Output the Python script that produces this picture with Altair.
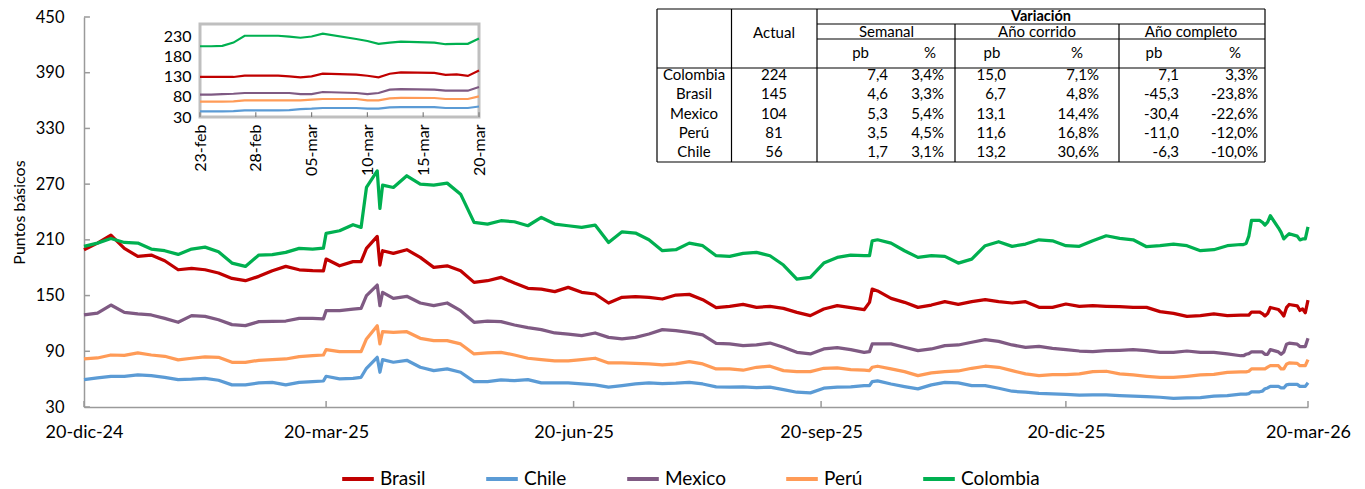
import altair as alt
import pandas as pd

# ---------------- data ----------------
paises = ["Brasil", "Chile", "Mexico", "Perú", "Colombia"]
colores = ["#C00000", "#5B9BD5", "#7F5A83", "#FF9B57", "#00B050"]
meses = ["ene", "feb", "mar", "abr", "may", "jun", "jul", "ago", "sep", "oct", "nov", "dic"]

inicio = "2024-12-20"
# days since 20-dic-24 for the sampled main series
dias = [0, 5, 10, 15, 20, 25, 30, 35, 40, 45, 50, 55, 60, 65, 70, 75, 80, 85, 89, 90, 95, 100, 103, 105,
        109, 110, 111,
        115, 120, 125, 130, 135, 140, 145, 150, 155, 160, 165, 170, 175, 180, 185, 190, 195, 200,
        205, 210, 215, 220, 225, 230, 235, 240, 245, 250, 255, 260, 265, 270, 275, 280, 285, 290,
        292, 293, 295, 300, 305, 310, 315, 320, 325, 330, 335, 340, 345, 350, 355, 360, 365, 370, 375, 380,
        385, 390, 395, 400, 405, 410, 415, 420, 425]

colombia = [203.0, 206.5, 211.5, 207.2, 206.5, 200.1, 198.3, 194.3, 200.1, 202.2, 197.2, 185.0, 181.4, 193.6, 194.0, 196.5, 200.8, 200.1, 201.0, 217.0, 219.8, 226.3, 223.4, 266.4,
            284.3, 243.8, 268.9,
            266.4, 279.0, 270.0, 268.9, 271.1, 259.2, 228.8, 227.0, 230.6, 229.5, 225.2, 234.1, 227.0, 225.2, 223.4, 225.9, 207.2, 218.7,
            217.3, 210.1, 198.3, 199.4, 206.5, 203.7, 192.9, 192.2, 195.4, 196.5, 192.9, 182.9, 167.8, 169.6, 185.0, 191.1, 193.6, 192.9,
            192.9, 209.0, 210.1, 206.5, 198.3, 191.1, 192.9, 192.2, 185.0, 189.3, 203.7, 208.0, 203.0, 205.5, 210.1, 209.0, 203.7, 203.0, 209.0, 214.4,
            211.6, 210.1, 202.6, 203.7, 205.5, 203.7, 198.3, 199.4, 203.7]
brasil = [199.4, 206.5, 215.1, 200.8, 192.2, 193.6, 187.5, 177.8, 179.3, 177.8, 174.3, 168.5, 166.0, 170.7, 176.8, 181.4, 177.8, 176.8, 176.5, 189.3, 182.1, 186.5, 186.5, 200.8,
          213.7, 182.9, 198.3,
          195.4, 199.4, 191.1, 180.4, 182.1, 176.8, 164.2, 166.0, 169.6, 163.5, 157.8, 157.0, 154.2, 158.8, 153.5, 151.7, 142.0, 148.1,
          148.8, 148.1, 146.3, 150.6, 151.3, 145.6, 137.0, 138.4, 140.5, 137.3, 138.4, 136.2, 131.9, 128.4, 135.5, 139.1, 137.0, 134.8,
          142.7, 157.0, 155.0, 147.0, 142.7, 137.3, 139.8, 143.4, 140.5, 143.4, 145.6, 143.4, 142.0, 143.4, 137.3, 137.3, 140.9, 138.4, 139.1, 138.4,
          138.0, 137.3, 137.3, 132.7, 130.9, 127.6, 128.4, 130.2, 128.4]
mexico = [129.1, 131.2, 139.8, 131.9, 130.2, 129.1, 125.5, 121.2, 128.4, 127.6, 124.0, 118.7, 117.6, 121.9, 122.3, 122.6, 125.5, 125.5, 125.0, 133.7, 133.7, 135.5, 136.2, 149.9,
          161.3, 139.1, 153.5,
          147.0, 149.2, 142.0, 139.1, 142.0, 133.7, 121.2, 122.6, 121.9, 118.3, 115.4, 113.3, 109.7, 108.6, 106.8, 109.7, 105.0, 103.3,
          105.0, 108.6, 113.3, 112.2, 110.4, 107.6, 98.6, 97.9, 96.1, 96.8, 98.9, 94.3, 88.9, 87.1, 92.5, 93.9, 91.8, 88.9,
          89.6, 97.9, 97.9, 97.9, 94.3, 90.7, 92.5, 96.1, 96.8, 99.7, 102.5, 100.7, 96.8, 94.3, 95.4, 93.2, 91.8, 90.3, 89.6, 90.7,
          91.1, 91.8, 90.7, 88.9, 88.9, 90.3, 88.9, 88.9, 87.1]
peru = [81.7, 82.8, 86.0, 85.7, 88.2, 86.0, 84.6, 80.7, 82.5, 83.9, 83.5, 78.1, 78.1, 80.3, 81.0, 81.7, 84.2, 85.3, 86.0, 91.8, 89.6, 89.6, 89.6, 103.3,
        117.6, 97.9, 111.1,
        110.4, 111.1, 104.0, 101.5, 101.5, 97.9, 87.1, 88.2, 88.9, 86.0, 82.5, 81.0, 79.6, 79.6, 81.0, 82.5, 77.4, 77.4,
        77.1, 76.4, 75.3, 76.4, 78.9, 76.4, 71.0, 71.0, 69.6, 72.8, 73.9, 69.2, 68.1, 68.1, 71.7, 72.1, 70.3, 69.6,
        69.2, 72.8, 73.9, 71.0, 68.1, 63.8, 66.7, 68.1, 68.8, 71.7, 73.9, 72.8, 69.2, 65.6, 63.8, 64.9, 64.9, 65.6, 68.1, 68.5,
        65.6, 64.5, 63.1, 62.0, 62.0, 63.1, 64.5, 65.2, 67.4]
chile = [59.5, 61.3, 63.1, 63.1, 64.5, 63.8, 62.0, 59.5, 59.9, 60.9, 58.8, 53.8, 53.8, 55.9, 56.6, 53.8, 56.6, 57.4, 58.0, 63.1, 60.2, 60.9, 62.0, 71.7,
         83.5, 67.4, 81.0,
         78.2, 80.3, 72.8, 69.2, 71.0, 67.4, 57.4, 57.4, 59.1, 58.4, 59.5, 55.9, 55.9, 55.9, 54.8, 53.8, 51.3, 53.0,
         54.8, 55.9, 55.2, 55.6, 56.6, 54.8, 51.6, 51.3, 51.6, 50.9, 51.3, 48.8, 45.9, 45.2, 50.2, 51.3, 51.6, 53.0,
         53.0, 57.4, 58.1, 54.8, 52.0, 49.5, 53.8, 56.6, 55.9, 53.0, 53.0, 50.2, 47.0, 45.9, 44.8, 44.1, 43.7, 42.7, 43.0, 43.0,
         42.3, 41.6, 41.2, 40.5, 39.4, 39.8, 40.1, 41.6, 42.3]

# last month, daily (inset): 23-feb-26 .. 20-mar-26 (business days)
dias_inset = [430, 431, 432, 433, 434, 437, 438, 439, 440, 441, 444, 445, 446, 447, 448, 451, 452, 453, 454, 455]
colombia_inset = [205, 205, 206, 214, 231, 231, 229, 226, 229, 236, 223, 218, 211, 214, 216.6, 214, 210, 211, 211, 224]
brasil_inset = [129, 129, 129, 129, 132.3, 132.3, 130.6, 128.1, 130.6, 137.2, 135, 132, 128, 137, 140.4, 139, 134, 135.6, 131.5, 145]
mexico_inset = [85.2, 85.2, 86.8, 87.5, 89.3, 89.3, 89.3, 86.8, 86.8, 91.8, 89.3, 86.8, 89.3, 97.6, 98.7, 97.6, 95.1, 95.1, 95.1, 104]
peru_inset = [67.8, 67.8, 67.8, 68.5, 71.1, 71.1, 71.1, 71.1, 73, 74.5, 74.5, 71.1, 71.1, 76, 77.5, 77, 74.5, 74.5, 74.5, 81]
chile_inset = [43.9, 43.9, 43.9, 44.5, 46.4, 46.4, 47, 49.7, 50.5, 52.2, 52.2, 50.5, 50.5, 53.8, 54.3, 54.3, 52.2, 52.2, 52.2, 56]

# axis ticks
ticks_main = [0, 90, 182, 274, 365, 455]
ticks_y = [30, 90, 150, 210, 270, 330, 390, 450]
ticks_inset = [430, 435, 440, 445, 450, 455]
ticks_y_inset = [30, 80, 130, 180, 230]

# table
tabla_paises = ["Colombia", "Brasil", "Mexico", "Perú", "Chile"]
tabla_actual = ["224", "145", "104", "81", "56"]
sem_pb = ["7,4", "4,6", "5,3", "3,5", "1,7"]
sem_pct = ["3,4%", "3,3%", "5,4%", "4,5%", "3,1%"]
ac_pb = ["15,0", "6,7", "13,1", "11,6", "13,2"]
ac_pct = ["7,1%", "4,8%", "14,4%", "16,8%", "30,6%"]
comp_pb = ["7,1", "-45,3", "-30,4", "-11,0", "-6,3"]
comp_pct = ["3,3%", "-23,8%", "-22,6%", "-12,0%", "-10,0%"]

# ---------------- helpers ----------------
BASE = pd.Timestamp(inicio)
FONT = "Lato"


def fecha(d, hours=0):
    t = BASE + pd.Timedelta(days=d, hours=hours)
    return t.strftime("%Y-%m-%dT%H:%M:%SZ")


def ms(d):
    return int((BASE + pd.Timedelta(days=d)).timestamp() * 1000)


series = {"Brasil": (brasil, brasil_inset), "Chile": (chile, chile_inset),
          "Mexico": (mexico, mexico_inset), "Perú": (peru, peru_inset),
          "Colombia": (colombia, colombia_inset)}
rows, rows_in = [], []
for p in paises:
    main_vals, ins_vals = series[p]
    assert len(main_vals) == len(dias), (p, len(main_vals))
    assert len(ins_vals) == len(dias_inset)
    for d, v in zip(dias + dias_inset, main_vals + ins_vals):
        rows.append({"fecha": fecha(d), "pais": p, "valor": v})
    for d, v in zip(dias_inset, ins_vals):
        rows_in.append({"fecha": fecha(d), "pais": p, "valor": v})
df = pd.DataFrame(rows)
df_in = pd.DataFrame(rows_in)

meses_js = "[" + ",".join("'%s'" % m for m in meses) + "]"
expr_main = ("utcFormat(datum.value,'%d') + '-' + " + meses_js +
             "[utcmonth(datum.value)] + '-' + utcFormat(datum.value,'%y')")
expr_inset = "utcFormat(datum.value,'%d') + '-' + " + meses_js + "[utcmonth(datum.value)]"

W, H = 1224, 390
PLOT_X, PLOT_Y = 84, 17
AXIS_GREY = "#9a9a9a"

legend = alt.Legend(orient="none", legendX=256, legendY=444, direction="horizontal", columns=5,
                    title=None, symbolType="stroke", symbolStrokeWidth=4, symbolSize=1000,
                    labelFont=FONT, labelFontSize=19, labelColor="#000", columnPadding=52,
                    labelOffset=4)
color = alt.Color("pais:N", scale=alt.Scale(domain=paises, range=colores), legend=legend,
                  sort=paises)

# ---------------- main chart ----------------
x_main = alt.X("fecha:T",
               scale=alt.Scale(type="utc", domain=[ms(0), ms(455)], nice=False),
               axis=alt.Axis(values=[ms(d) for d in ticks_main], labelExpr=expr_main, title=None,
                             grid=False, ticks=False, domainColor=AXIS_GREY, domainWidth=1.5,
                             labelFont=FONT, labelFontSize=18, labelColor="#000", labelPadding=16,
                             labelFlush=False, labelOverlap=False))
y_main = alt.Y("valor:Q",
               scale=alt.Scale(domain=[30, 450], nice=False, zero=False),
               axis=alt.Axis(values=ticks_y, title="Puntos básicos", grid=False, ticks=False,
                             domainColor=AXIS_GREY, domainWidth=1.5, labelFont=FONT,
                             labelFontSize=16.5, labelColor="#000", labelPadding=20,
                             titleFont=FONT, titleFontSize=16, titleFontWeight="normal",
                             titleColor="#000", titlePadding=8))

lines = alt.Chart(df).mark_line(strokeWidth=3.25, strokeJoin="round").encode(
    x=x_main, y=y_main, color=color, order=alt.Order("fecha:T"))

xt = pd.DataFrame({"fecha": [fecha(d) for d in ticks_main],
                   "valor": [30] * len(ticks_main), "valor2": [36.5] * len(ticks_main)})
xticks = alt.Chart(xt).mark_rule(color=AXIS_GREY, strokeWidth=1.5).encode(
    x=x_main, y=y_main, y2="valor2:Q")
yt = pd.DataFrame({"fecha": [fecha(0)] * len(ticks_y), "fecha2": [fecha(2, 5)] * len(ticks_y),
                   "valor": ticks_y})
yticks = alt.Chart(yt).mark_rule(color=AXIS_GREY, strokeWidth=1.5).encode(
    x=x_main, x2="fecha2:T", y=y_main)

main = alt.layer(lines, xticks, yticks)

# ---------------- inset ----------------
IN_L, IN_R, IN_T, IN_B = 200, 479, 24, 117
x_in = alt.X("fecha:T",
             scale=alt.Scale(type="utc", domain=[ms(430), ms(455)], nice=False,
                             range=[IN_L - PLOT_X, IN_R - PLOT_X]),
             axis=alt.Axis(orient="bottom", offset=-(H - (IN_B - PLOT_Y)),
                           values=[ms(d) for d in ticks_inset], labelExpr=expr_inset,
                           labelAngle=-90, title=None, grid=False, ticks=False, domain=False,
                           labelFont=FONT, labelFontSize=16, labelColor="#000", labelPadding=7,
                           labelFlush=False, labelOverlap=False))
y_in = alt.Y("valor:Q",
             scale=alt.Scale(domain=[30, 260], nice=False, zero=False,
                             range=[IN_B - PLOT_Y, IN_T - PLOT_Y]),
             axis=alt.Axis(orient="left", offset=-(IN_L - PLOT_X), values=ticks_y_inset,
                           title=None, grid=False, ticks=False, domain=False, labelFont=FONT,
                           labelFontSize=16, labelColor="#000", labelPadding=9,
                           labelOverlap=False))

frame_df = pd.DataFrame({"fecha": [fecha(430)], "fecha2": [fecha(455)],
                         "valor": [30], "valor2": [260]})
frame = alt.Chart(frame_df).mark_rect(fill="white", stroke="#BFBFBF", strokeWidth=3).encode(
    x=x_in, x2="fecha2:T", y=y_in, y2="valor2:Q")
in_lines = alt.Chart(df_in).mark_line(strokeWidth=2.2).encode(
    x=x_in, y=y_in, color=color, order=alt.Order("fecha:T"))
it = pd.DataFrame({"fecha": [fecha(d) for d in ticks_inset],
                   "valor": [30] * len(ticks_inset), "valor2": [42] * len(ticks_inset)})
in_ticks = alt.Chart(it).mark_rule(color="#7f7f7f", strokeWidth=1.2).encode(
    x=x_in, y=y_in, y2="valor2:Q")
inset = alt.layer(frame, in_lines, in_ticks)

# ---------------- table (page-pixel layout) ----------------
tx = alt.X("px:Q", scale=alt.Scale(domain=[0, 1365], range=[-PLOT_X, 1365 - PLOT_X],
                                   nice=False, zero=False), axis=None)
ty = alt.Y("py:Q", scale=alt.Scale(domain=[0, 489], range=[-PLOT_Y, 489 - PLOT_Y],
                                   nice=False, zero=False), axis=None)

T_L, T_C1, T_C2, T_C3, T_C4, T_R = 657, 731.5, 817, 955, 1119, 1265
T_TOP, T_H1, T_H2, T_H3, T_BOT = 9, 24, 39, 68, 162
rules_df = pd.DataFrame([
    # horizontals
    {"px": T_L, "px2": T_R, "py": T_TOP, "py2": T_TOP},
    {"px": T_C2, "px2": T_R, "py": T_H1, "py2": T_H1},
    {"px": T_C2, "px2": T_R, "py": T_H2, "py2": T_H2},
    {"px": T_L, "px2": T_R, "py": T_H3, "py2": T_H3},
    {"px": T_L, "px2": T_R, "py": T_BOT, "py2": T_BOT},
    # verticals
    {"px": T_L, "px2": T_L, "py": T_TOP, "py2": T_BOT},
    {"px": T_C1, "px2": T_C1, "py": T_TOP, "py2": T_BOT},
    {"px": T_C2, "px2": T_C2, "py": T_TOP, "py2": T_BOT},
    {"px": T_C3, "px2": T_C3, "py": T_H1, "py2": T_BOT},
    {"px": T_C4, "px2": T_C4, "py": T_H1, "py2": T_BOT},
    {"px": T_R, "px2": T_R, "py": T_TOP, "py2": T_BOT},
])
t_rules = alt.Chart(rules_df).mark_rule(color="#000", strokeWidth=1.2).encode(
    x=tx, x2="px2:Q", y=ty, y2="py2:Q")

row_y = [75, 94.3, 113.5, 132.7, 151.8]
center_rows = [
    {"px": 774, "py": 32.5, "texto": "Actual"},
    {"px": 886.5, "py": 32, "texto": "Semanal"},
    {"px": 1037, "py": 32, "texto": "Año corrido"},
    {"px": 1191, "py": 32, "texto": "Año completo"},
]
for xx, lab in zip([860.6, 930, 992, 1077, 1154, 1235], ["pb", "%", "pb", "%", "pb", "%"]):
    center_rows.append({"px": xx, "py": 53, "texto": lab})
for yy, p, a in zip(row_y, tabla_paises, tabla_actual):
    center_rows.append({"px": 694, "py": yy, "texto": p})
    center_rows.append({"px": 774, "py": yy, "texto": a})
right_rows = []
for col_x, col in zip([888, 944, 1006, 1099, 1179, 1258],
                      [sem_pb, sem_pct, ac_pb, ac_pct, comp_pb, comp_pct]):
    for yy, v in zip(row_y, col):
        right_rows.append({"px": col_x, "py": yy, "texto": v})

t_center = alt.Chart(pd.DataFrame(center_rows)).mark_text(
    font=FONT, fontSize=15, color="#000", align="center", baseline="middle").encode(
    x=tx, y=ty, text="texto:N")
t_right = alt.Chart(pd.DataFrame(right_rows)).mark_text(
    font=FONT, fontSize=15, color="#000", align="right", baseline="middle").encode(
    x=tx, y=ty, text="texto:N")
t_bold = alt.Chart(pd.DataFrame([{"px": 1041, "py": 17, "texto": "Variación"}])).mark_text(
    font=FONT, fontSize=14.5, fontWeight="bold", color="#000", align="center",
    baseline="middle").encode(x=tx, y=ty, text="texto:N")
tabla = alt.layer(t_rules, t_center, t_right, t_bold)

chart = alt.layer(main, inset, tabla).resolve_scale(
    x="independent", y="independent"
).properties(
    width=W, height=H,
    autosize=alt.AutoSizeParams(type="none"),
    padding={"left": PLOT_X - 8, "top": PLOT_Y - 8, "right": 49, "bottom": 81},
).configure_view(stroke=None)

chart.save("out.html", embed_options={"renderer": "svg", "actions": False})
